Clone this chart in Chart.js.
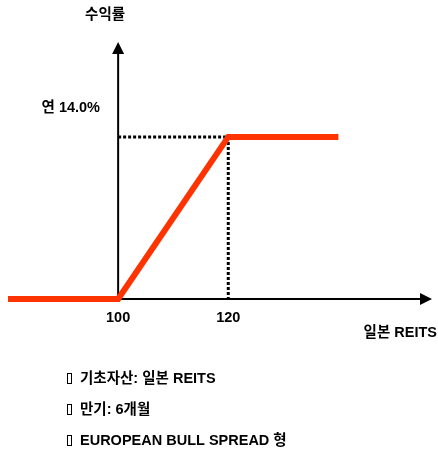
<!DOCTYPE html>
<html>
<head>
<meta charset="utf-8">
<script src="https://cdn.jsdelivr.net/npm/chart.js@4.4.1/dist/chart.umd.min.js"></script>
<style>
  html, body { margin: 0; padding: 0; background: #fff; }
  #wrap { width: 438px; height: 454px; }
</style>
</head>
<body>
<div id="wrap"><canvas id="c" width="438" height="454"></canvas></div>
<script>
// ---- data ----
const payoffX = [80, 100, 120, 140];
const payoffY = [0, 0, 14, 14];
const capRate = 14.0;
const strikes = [100, 120];
const xTickLabels = ['100', '120'];
const yAxisTitle = '수익률';
const xAxisTitle = '일본 REITS';
const capLabel = '연 14.0%';
const notes = ['기초자산: 일본 REITS', '만기: 6개월', 'EUROPEAN BULL SPREAD 형'];

const RED = '#ff3300';
const FONT = '"Liberation Sans", "Noto Sans CJK KR", sans-serif';

const payoffData = payoffX.map((x, i) => ({ x: x, y: payoffY[i] }));
const capGuide = [{ x: strikes[0], y: capRate }, { x: strikes[1], y: capRate }];
const strikeGuide = [{ x: strikes[1], y: capRate }, { x: strikes[1], y: 0 }];

const annot = {
  id: 'annot',
  beforeDatasetsDraw(chart) {
    const ctx = chart.ctx;
    const xs = chart.scales.x, ys = chart.scales.y;
    const x0 = xs.getPixelForValue(strikes[0]);
    const y0 = ys.getPixelForValue(0);
    const yTop = ys.getPixelForValue(ys.max);
    const xRight = xs.getPixelForValue(xs.max);
    ctx.save();
    ctx.strokeStyle = '#000';
    ctx.fillStyle = '#000';
    ctx.lineWidth = 2;
    // y axis
    ctx.beginPath();
    ctx.moveTo(x0, y0 + 1);
    ctx.lineTo(x0, yTop + 10);
    ctx.stroke();
    ctx.beginPath();
    ctx.moveTo(x0, yTop);
    ctx.lineTo(x0 - 6, yTop + 12);
    ctx.lineTo(x0 + 6, yTop + 12);
    ctx.closePath();
    ctx.fill();
    // x axis
    ctx.beginPath();
    ctx.moveTo(x0, y0);
    ctx.lineTo(xRight - 10, y0);
    ctx.stroke();
    ctx.beginPath();
    ctx.moveTo(xRight, y0);
    ctx.lineTo(xRight - 12, y0 - 6);
    ctx.lineTo(xRight - 12, y0 + 6);
    ctx.closePath();
    ctx.fill();
    ctx.restore();
  },
  afterDraw(chart) {
    const ctx = chart.ctx;
    const xs = chart.scales.x, ys = chart.scales.y;
    const y0 = ys.getPixelForValue(0);
    const x0 = xs.getPixelForValue(strikes[0]);
    ctx.save();
    ctx.fillStyle = '#000';
    ctx.textBaseline = 'middle';
    ctx.font = 'bold 14.5px ' + FONT;
    // tick labels
    ctx.textAlign = 'center';
    strikes.forEach((s, i) => {
      ctx.fillText(xTickLabels[i], xs.getPixelForValue(s), y0 + 19);
    });
    // axis titles
    ctx.fillText(yAxisTitle, x0 - 13, 15);
    ctx.textAlign = 'right';
    ctx.fillText(xAxisTitle, 437, 333);
    ctx.fillText(capLabel, 100, ys.getPixelForValue(capRate) - 29);
    // notes
    ctx.textAlign = 'left';
    notes.forEach((n, i) => {
      const y = 379 + i * 31;
      ctx.lineWidth = 1;
      ctx.strokeStyle = '#000';
      ctx.strokeRect(67.5, y - 5.5, 4, 10);
      ctx.fillText(n, 80, y);
    });
    ctx.restore();
  }
};

new Chart(document.getElementById('c'), {
  type: 'line',
  data: {
    datasets: [
      {
        data: capGuide,
        borderColor: '#000',
        borderWidth: 3,
        borderDash: [3, 2],
        pointRadius: 0,
        clip: false,
        order: 2
      },
      {
        data: strikeGuide,
        borderColor: '#000',
        borderWidth: 3,
        borderDash: [3, 2],
        pointRadius: 0,
        clip: false,
        order: 2
      },
      {
        data: payoffData,
        borderColor: RED,
        borderWidth: 6,
        borderJoinStyle: 'miter',
        borderCapStyle: 'butt',
        pointRadius: 0,
        tension: 0,
        clip: false,
        order: 1
      }
    ]
  },
  options: {
    responsive: false,
    animation: false,
    devicePixelRatio: 1,
    layout: { padding: { left: 8, right: 6, top: 42, bottom: 155 } },
    plugins: { legend: { display: false }, tooltip: { enabled: false } },
    scales: {
      x: { type: 'linear', min: 80, max: 157, display: false },
      y: { type: 'linear', min: 0, max: 22.2, display: false }
    }
  },
  plugins: [annot]
});
</script>
</body>
</html>
